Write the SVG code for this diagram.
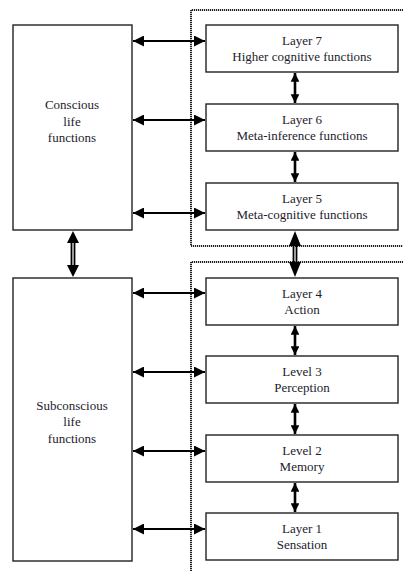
<svg xmlns="http://www.w3.org/2000/svg" width="403" height="571" viewBox="0 0 403 571">
<defs>
<style>
.box{fill:#fff;stroke:#222;stroke-width:1.4}
.t{font-family:"Liberation Serif","Times New Roman",serif;font-size:13px;fill:#1c1c2c;text-anchor:middle}
.dot{fill:none;stroke:#222;stroke-width:2;stroke-dasharray:1.2 0.8}
.ha{stroke:#000;stroke-width:2.2;fill:none;marker-start:url(#ah);marker-end:url(#ah)}
.va{stroke:#000;stroke-width:2.6;fill:none;marker-start:url(#av);marker-end:url(#av)}
.dl{stroke:#000;stroke-width:1.8;fill:none}
</style>
<marker id="ah" viewBox="0 0 10 10" refX="10" refY="5" markerWidth="5" markerHeight="5" markerUnits="strokeWidth" orient="auto-start-reverse">
<path d="M0,0 L10,5 L0,10 Z" fill="#000"/>
</marker>
<marker id="av" viewBox="0 0 10 10" refX="10" refY="5" markerWidth="3.4" markerHeight="3.4" markerUnits="strokeWidth" orient="auto-start-reverse">
<path d="M0,0 L10,5 L0,10 Z" fill="#000"/>
</marker>
</defs>
<g id="regions">
<path class="dot" d="M403,10 H191 V246 H403"/>
<path class="dot" d="M403,262 H191 V571"/>
</g>
<g id="conscious"><rect class="box" x="13" y="25" width="119" height="205"/>
<text class="t" x="72" y="109">Conscious</text><text class="t" x="72" y="126">life</text><text class="t" x="72" y="142">functions</text></g>
<g id="subconscious"><rect class="box" x="13" y="278" width="119" height="283"/>
<text class="t" x="72" y="410">Subconscious</text><text class="t" x="72" y="426">life</text><text class="t" x="72" y="443">functions</text></g>
<g id="layer7"><rect class="box" x="206" y="25" width="192" height="47"/>
<text class="t" x="302" y="45">Layer 7</text><text class="t" x="302" y="61">Higher cognitive functions</text></g>
<g id="layer6"><rect class="box" x="206" y="104" width="192" height="47"/>
<text class="t" x="302" y="124">Layer 6</text><text class="t" x="302" y="140">Meta-inference functions</text></g>
<g id="layer5"><rect class="box" x="206" y="183" width="192" height="47"/>
<text class="t" x="302" y="203">Layer 5</text><text class="t" x="302" y="219">Meta-cognitive functions</text></g>
<g id="layer4"><rect class="box" x="206" y="278" width="192" height="47"/>
<text class="t" x="302" y="298">Layer 4</text><text class="t" x="302" y="314">Action</text></g>
<g id="level3"><rect class="box" x="206" y="356" width="192" height="47"/>
<text class="t" x="302" y="376">Level 3</text><text class="t" x="302" y="392">Perception</text></g>
<g id="level2"><rect class="box" x="206" y="435" width="192" height="47"/>
<text class="t" x="302" y="455">Level 2</text><text class="t" x="302" y="471">Memory</text></g>
<g id="layer1"><rect class="box" x="206" y="513" width="192" height="47"/>
<text class="t" x="302" y="533">Layer 1</text><text class="t" x="302" y="549">Sensation</text></g>
<g id="connectors">
<line class="ha" x1="133" y1="41" x2="205" y2="41"/>
<line class="ha" x1="133" y1="120" x2="205" y2="120"/>
<line class="ha" x1="133" y1="213" x2="205" y2="213"/>
<line class="ha" x1="133" y1="293" x2="205" y2="293"/>
<line class="ha" x1="133" y1="372" x2="205" y2="372"/>
<line class="ha" x1="133" y1="451" x2="205" y2="451"/>
<line class="ha" x1="133" y1="529" x2="205" y2="529"/>
<line class="va" x1="295" y1="73" x2="295" y2="103"/>
<line class="va" x1="295" y1="152" x2="295" y2="182"/>
<line class="va" x1="295" y1="326" x2="295" y2="355"/>
<line class="va" x1="295" y1="404" x2="295" y2="434"/>
<line class="va" x1="295" y1="483" x2="295" y2="512"/>
<g id="dbl-left">
<line class="dl" x1="71.5" y1="241" x2="71.5" y2="267"/><line class="dl" x1="74.5" y1="241" x2="74.5" y2="267"/>
<path d="M73,231 L79,243 L67,243 Z M73,277 L79,265 L67,265 Z" fill="#000"/>
</g>
<g id="dbl-right">
<line class="dl" x1="293.5" y1="241" x2="293.5" y2="267"/><line class="dl" x1="296.5" y1="241" x2="296.5" y2="267"/>
<path d="M295,231 L301,246 L289,246 Z M295,277 L301,262 L289,262 Z" fill="#000"/>
</g>
</g>
</svg>
